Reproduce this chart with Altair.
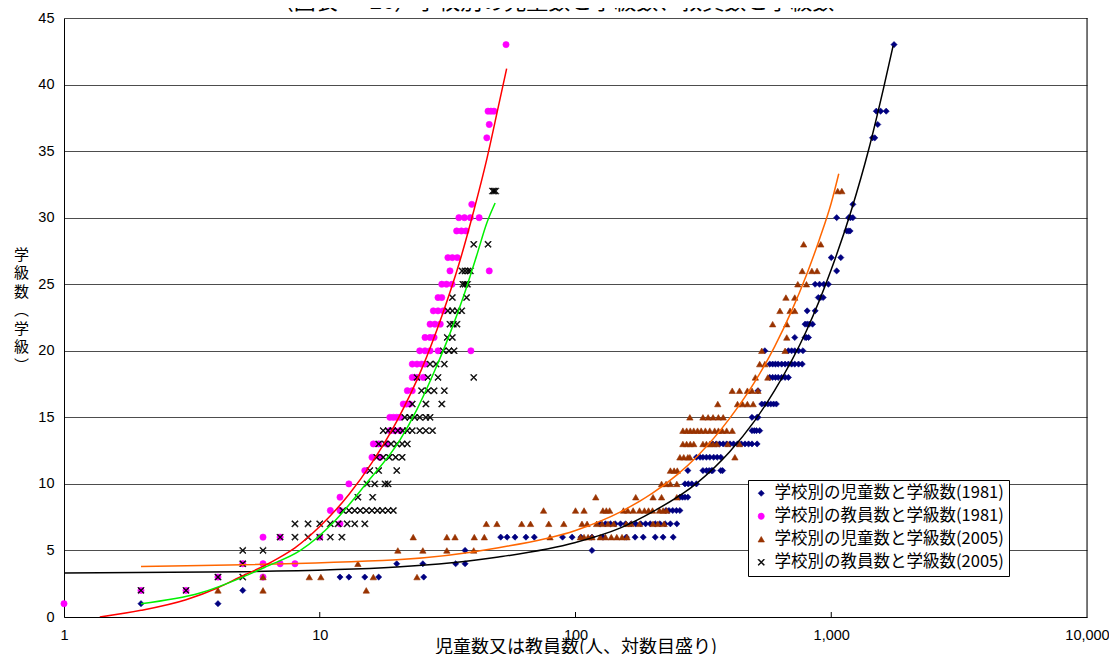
import altair as alt
import pandas as pd

TITLE = "（図表 － 26）学校別の児童数と学級数、教員数と学級数"
X_TITLE = "児童数又は教員数(人、対数目盛り)"
Y_TITLE = ["学", "級", "数", "︵", "学", "級", "︶"]

LABELS = [
    "学校別の児童数と学級数(1981)",
    "学校別の教員数と学級数(1981)",
    "学校別の児童数と学級数(2005)",
    "学校別の教員数と学級数(2005)",
]

# rows: (number of classes, [counts...])
students_1981 = [
    (1, [2, 4]),
    (2, [5]),
    (3, [12, 13, 15, 17, 25.5]),
    (4, [20, 25.3, 34, 37]),
    (5, [37, 116]),
    (6, [51, 54, 58, 64, 69, 89, 97, 105, 116, 128, 158, 171, 184, 205, 220, 241]),
    (7, [125, 131, 137, 143, 150, 157, 165, 172, 180, 188, 196, 205, 214, 224, 235, 249]),
    (8, [226, 232, 240, 248, 256]),
    (9, [256, 262, 268, 275]),
    (10, [268, 276, 285, 297]),
    (11, [275, 315, 325, 333, 340, 344, 370, 376]),
    (12, [297, 307, 315, 325, 335, 347, 358, 370]),
    (13, [344, 355, 366, 378, 390, 402, 415, 430, 445, 460, 475, 490, 513]),
    (14, [490, 500, 510, 525]),
    (15, [490, 513, 517]),
    (16, [535, 550, 565, 580, 595, 610]),
    (17, [517]),
    (18, [575, 590, 605, 620, 640, 660, 680]),
    (19, [575, 590, 605, 620, 640, 660, 680, 700, 720, 745, 770]),
    (20, [550, 680, 700, 720, 745, 775]),
    (21, [720, 790, 800, 815]),
    (22, [790, 805, 820, 845]),
    (23, [805, 865]),
    (24, [890, 910, 930]),
    (25, [865, 900, 935, 975]),
    (26, [1050]),
    (27, [1000, 1090]),
    (29, [1150, 1170, 1185]),
    (30, [1050, 1170, 1190, 1215]),
    (31, [1215]),
    (36, [1450, 1480]),
    (37, [1520]),
    (38, [1500, 1560, 1640]),
    (43, [1760]),
]

teachers_1981 = [
    (1, [1]),
    (2, [2, 3]),
    (3, [4, 6]),
    (4, [5, 6, 7, 8]),
    (6, [6, 7, 10]),
    (7, [12]),
    (8, [11, 12]),
    (9, [12]),
    (10, [13]),
    (11, [15]),
    (12, [16, 17.2]),
    (13, [16.2, 17, 18.3]),
    (14, [18.8, 19.6, 20.6]),
    (15, [18.8, 19.4, 20, 20.6]),
    (16, [21.2, 21.8, 22.5]),
    (17, [22, 23]),
    (18, [23, 24, 25.4]),
    (19, [23, 24, 25, 25.8]),
    (20, [24.6, 25.8, 27, 29, 39]),
    (21, [25.8, 27, 28]),
    (22, [27, 28.2, 29.6]),
    (23, [27.8, 29, 30.4]),
    (24, [29, 30]),
    (25, [30, 31.3, 32.9]),
    (26, [32.3, 46]),
    (27, [31.7, 33, 34.5]),
    (29, [34.3, 35.8, 37.3]),
    (30, [35, 36.8, 38.8, 42]),
    (31, [39.3]),
    (36, [45]),
    (37, [46]),
    (38, [45.5, 46.7, 48]),
    (43, [53.5]),
]

students_2005 = [
    (2, [4, 6, 15.2]),
    (3, [6, 9.1, 10.1, 16.2, 24]),
    (4, [14.1]),
    (5, [20.2, 25.3, 31.4, 40]),
    (6, [23.2, 31.4, 33.8, 40.2, 44, 79.5, 104.5, 108, 112, 116, 125, 131, 138, 145, 152, 159]),
    (7, [44.8, 49.3, 61.6, 66.7, 78.6, 90, 106, 111, 121, 127, 134, 141, 158, 165, 178, 201, 210, 222]),
    (8, [75, 100, 108, 128, 132, 136, 154, 160, 168, 178, 186, 193, 200, 213, 220, 227]),
    (9, [120, 172, 201, 217, 249]),
    (10, [217, 226, 235, 249]),
    (11, [235, 243, 250]),
    (12, [256, 265, 275, 280, 420]),
    (13, [263, 272, 281, 290, 315, 325, 335, 345, 357, 394, 438]),
    (14, [263, 272, 281, 290, 300, 310, 322, 335, 350, 362, 375, 390, 410]),
    (15, [280, 315, 330, 345, 362, 378]),
    (16, [360, 430, 450, 470, 495]),
    (17, [410, 438, 470, 490, 517]),
    (18, [505, 565]),
    (19, [525, 550]),
    (20, [535, 660]),
    (21, [670]),
    (22, [590, 670]),
    (23, [630, 690, 720]),
    (24, [665, 720]),
    (25, [740, 800]),
    (26, [770, 840, 880]),
    (28, [780, 910]),
    (32, [1060, 1100]),
]

teachers_2005 = [
    (2, [2, 3]),
    (3, [4, 5]),
    (4, [5]),
    (5, [5, 6]),
    (6, [7, 8, 9, 10, 11, 12.2]),
    (7, [8, 9, 10, 11, 11.8, 12.8, 13.7, 15]),
    (8, [12.3, 13, 13.7, 14.4, 15.2, 16, 16.8, 17.6, 18.5, 19.4]),
    (9, [14.1, 16.1]),
    (10, [15.3, 16.4, 18, 18.5]),
    (11, [15.7, 17, 20]),
    (12, [16.7, 17.7, 18.7, 19.8, 21]),
    (13, [17, 18, 19, 20, 21, 22]),
    (14, [17.7, 18.5, 19.3, 20.2, 21.1, 22, 23, 24.6, 26, 27.6]),
    (15, [21.5, 22.5, 23.5, 24.6, 26, 27]),
    (16, [23, 26, 30]),
    (17, [25, 26.5, 28, 30.7]),
    (18, [24, 26.5, 29, 40]),
    (19, [27, 28.5, 30.7]),
    (20, [30.4, 32, 33.5]),
    (21, [31.5, 33]),
    (22, [32.3, 33.3, 34.4]),
    (23, [31.7, 33, 34.5, 35.9]),
    (24, [33, 37.5]),
    (25, [36.3, 37, 37.8]),
    (26, [36, 37, 38, 38.8]),
    (28, [40, 45.5]),
    (32, [47.4, 48, 48.7]),
]

# trend lines
trend_t81_x = [1.38, 2, 3, 4, 5, 6, 7, 8, 10, 13, 16, 20, 25, 30, 35, 40, 45, 50, 53.8]
trend_t81_y = [0, 0.5, 1.3, 2.2, 3.1, 3.8, 4.5, 5.2, 6.8, 9.2, 11.6, 14.7, 18.6, 22.6, 26.5, 30.5, 34.4, 38.4, 41.2]
trend_t05_x = [2, 3.4, 5, 6.2, 8.4, 11.3, 15.3, 20.6, 24, 28, 32, 36.5, 41, 45, 48.5]
trend_t05_y = [1.0, 1.8, 3.0, 3.8, 5.0, 7.1, 10.1, 13.3, 15.6, 18.4, 21.1, 24.1, 27.1, 29.6, 31.1]
trend_s81_x = [1, 5, 20, 50, 100, 150, 200, 300, 400, 500, 600, 800, 1000, 1200, 1400, 1600, 1745]
trend_s81_y = [3.3, 3.4, 3.75, 4.5, 5.6, 6.7, 7.9, 10.1, 12.4, 14.7, 17.0, 21.5, 26.1, 30.6, 35.1, 39.7, 42.9]
trend_s05_x = [2, 20, 50, 100, 150, 200, 250, 300, 400, 500, 600, 700, 800, 900, 1000, 1070]
trend_s05_y = [3.8, 4.3, 5.2, 6.5, 7.9, 9.3, 10.7, 12.1, 14.9, 17.6, 20.3, 23.0, 25.7, 28.4, 31.1, 33.3]

COLORS = ["#000080", "#FF00FF", "#993300", "#000000"]
X_PATH = ("M-1,-0.8L-0.8,-1L0,-0.2L0.8,-1L1,-0.8L0.2,0L1,0.8L0.8,1"
          "L0,0.2L-0.8,1L-1,0.8L-0.2,0Z")
SHAPES = ["diamond", "circle", "triangle-up", X_PATH]
SIZES = [38, 42, 60, 125]

records = []
for name, rows in zip(LABELS, [students_1981, teachers_1981, students_2005, teachers_2005]):
    for yv, xs in rows:
        for xv in xs:
            records.append({"x": xv, "y": yv, "series": name})
df = pd.DataFrame(records)

JP = "Noto Sans CJK JP"
NUM = "Liberation Sans"

xscale = alt.Scale(type="log", domain=[1, 10000])
yscale = alt.Scale(domain=[0, 45], nice=False, zero=True)

xaxis = alt.Axis(values=[1, 10, 100, 1000, 10000], format=",", grid=False, ticks=False,
                 domainColor="black", domainWidth=1, labelFont=NUM, labelFontSize=14.5,
                 labelColor="black", labelPadding=11, labelOverlap=False, labelFlush=False,
                 title=X_TITLE, titleFont=JP, titleFontSize=18, titleFontWeight="normal",
                 titleColor="black", titleY=35, titleBaseline="alphabetic")
yaxis = alt.Axis(values=list(range(0, 46, 5)), grid=True, gridColor="#4d4d4d", gridWidth=1,
                 ticks=False, domainColor="black", domainWidth=1, labelFont=NUM,
                 labelFontSize=14.5, labelColor="black", labelPadding=10,
                 title=Y_TITLE, titleAngle=0, titleX=-43, titleY=229, titleBaseline="top",
                 titleAlign="center", titleFont=JP, titleFontSize=15, titleFontWeight="normal",
                 titleLineHeight=18.5, titleColor="black")

leg = alt.Legend(title=None, orient="none", legendX=684, legendY=462, direction="vertical",
                 strokeColor="black", fillColor="white", padding=5, cornerRadius=0,
                 labelFont=JP, labelFontSize=16.5, labelColor="black", labelLimit=400,
                 rowPadding=6, labelOffset=5, symbolStrokeWidth=0.6)

points = alt.Chart(df).mark_point(filled=True, opacity=1, strokeWidth=0.6).encode(
    x=alt.X("x:Q", scale=xscale, axis=xaxis),
    y=alt.Y("y:Q", scale=yscale, axis=yaxis),
    color=alt.Color("series:N", scale=alt.Scale(domain=LABELS, range=COLORS), legend=leg),
    stroke=alt.Stroke("series:N", scale=alt.Scale(domain=LABELS, range=COLORS), legend=leg),
    shape=alt.Shape("series:N", scale=alt.Scale(domain=LABELS, range=SHAPES), legend=leg),
    size=alt.Size("series:N", scale=alt.Scale(domain=LABELS, range=SIZES), legend=leg),
)

trend_specs = [
    (trend_s81_x, trend_s81_y, "#000000"),
    (trend_s05_x, trend_s05_y, "#FF6600"),
    (trend_t81_x, trend_t81_y, "#FF0000"),
    (trend_t05_x, trend_t05_y, "#00F000"),
]
lines = []
for xs, ys, col in trend_specs:
    lines.append(
        alt.Chart(pd.DataFrame({"x": xs, "y": ys})).mark_line(
            color=col, strokeWidth=1.5, interpolate="monotone", clip=True
        ).encode(x="x:Q", y="y:Q")
    )

tick_vals = [10, 100, 1000]
ticks = alt.Chart(pd.DataFrame({"x": tick_vals})).mark_rule(color="black", strokeWidth=1).encode(
    x="x:Q", y=alt.value(599), y2=alt.value(594)
)
border = alt.Chart(pd.DataFrame({"x": [10000]})).mark_rule(color="black", strokeWidth=1).encode(
    x="x:Q", y=alt.value(0), y2=alt.value(599)
)

title = alt.Chart(pd.DataFrame({"t": [TITLE]})).mark_text(
    font=JP, fontSize=22, baseline="bottom", align="center", color="black"
).encode(x=alt.value(489), y=alt.value(-4), text="t:N")

chart = alt.layer(points, *lines, ticks, border, title).properties(
    width=1023, height=599,
    autosize=alt.AutoSizeParams(type="none"),
    padding={"left": 56, "top": 10, "right": 22, "bottom": 37},
).configure_view(stroke=None).configure(background="white")

chart.save("out.html", embed_options={"renderer": "svg", "actions": False})
